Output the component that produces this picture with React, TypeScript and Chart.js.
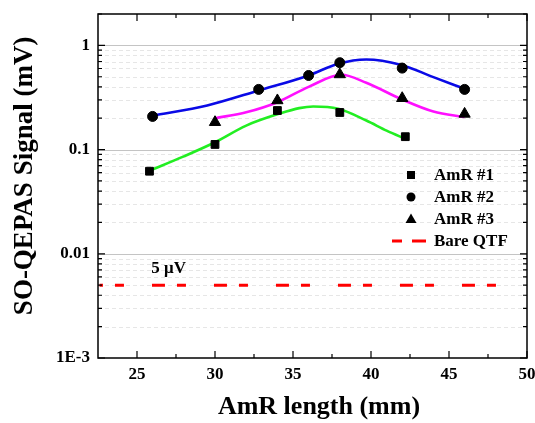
import React, { useEffect, useRef } from 'react';
import { Chart, registerables } from 'chart.js';

Chart.register(...registerables);

const FONT = "'Times New Roman', 'Liberation Serif', serif";

// ---- measured points ----
const amr1X = [25.8, 30, 34, 38, 42.2];
const amr1Y = [0.062, 0.112, 0.237, 0.227, 0.133];
const amr2X = [26, 32.8, 36, 38, 42, 46];
const amr2Y = [0.208, 0.378, 0.514, 0.682, 0.605, 0.378];
const amr3X = [30, 34, 38, 42, 46];
const amr3Y = [0.183, 0.296, 0.526, 0.311, 0.22];

// ---- fitted curves ----
const fit1X = [25.8, 28, 30, 32, 34.2, 35.4, 36.3, 37.9, 39.7, 41, 42.3];
const fit1Y = [0.0628, 0.086, 0.1175, 0.17, 0.223, 0.25, 0.259, 0.246, 0.19, 0.152, 0.125];
const fit2X = [26, 29.5, 32.8, 36, 37.9, 39.7, 41.9, 44, 46];
const fit2Y = [0.212, 0.265, 0.369, 0.515, 0.667, 0.733, 0.652, 0.496, 0.383];
const fit3X = [30, 32, 34, 36, 38.1, 39.7, 41.9, 44, 46];
const fit3Y = [0.2, 0.228, 0.285, 0.4, 0.522, 0.438, 0.307, 0.232, 0.205];

// ---- bare QTF reference level ----
const bareX = [22.6, 48.1];
const bareY = [0.005, 0.005];
const bareLongDash = [13, 49];
const bareShortDash = [9, 53];

// ---- axes ----
const xMin = 22.5;
const xMax = 50;
const xTickVals = [25, 30, 35, 40, 45, 50];
const xMinorVals = [25, 27.5, 30, 32.5, 35, 37.5, 40, 42.5, 45, 47.5, 50];
const yMin = 0.001;
const yMax = 2;
const yTickVals = [0.001, 0.01, 0.1, 1];
const yTickLabels = ['1E-3', '0.01', '0.1', '1'];

const seriesLabels = ['AmR #1', 'AmR #2', 'AmR #3', 'Bare QTF'];
const noteText = '5 μV';
const noteX = 27.03;
const noteY = 0.0072;

const pts = (xs: number[], ys: number[]) => xs.map((x, i) => ({ x, y: ys[i] }));

function yMinorVals(): { v: number; major: boolean }[] {
  const out: { v: number; major: boolean }[] = [];
  for (let e = -3; e <= 0; e++) {
    for (let m = 1; m <= 9; m++) {
      const v = m * Math.pow(10, e);
      if (v > yMax + 1e-9) break;
      out.push({ v, major: m === 1 });
    }
  }
  return out;
}

const gridPlugin = {
  id: 'gridPlugin',
  beforeDatasetsDraw(chart: any) {
    const { ctx, chartArea: a, scales } = chart;
    const y = scales.y;
    yMinorVals().forEach((t) => {
      const py = Math.round(y.getPixelForValue(t.v)) + 0.5;
      if (py < a.top + 1 || py > a.bottom - 1) return;
      ctx.save();
      ctx.lineWidth = 1;
      ctx.strokeStyle = t.major ? '#c4c4c4' : '#e6e6e6';
      ctx.setLineDash(t.major ? [] : [4, 3]);
      ctx.beginPath();
      ctx.moveTo(a.left, py);
      ctx.lineTo(a.right, py);
      ctx.stroke();
      ctx.restore();
    });
  },
};

const framePlugin = {
  id: 'framePlugin',
  afterDatasetsDraw(chart: any) {
    const { ctx, chartArea: a, scales } = chart;
    const x = scales.x;
    const y = scales.y;
    ctx.save();
    ctx.setLineDash([]);
    ctx.strokeStyle = '#000';
    ctx.lineWidth = 1.5;
    ctx.strokeRect(a.left, a.top, a.right - a.left, a.bottom - a.top);

    ctx.lineWidth = 1.2;
    xMinorVals.forEach((v) => {
      const px = x.getPixelForValue(v);
      const len = v % 5 === 0 ? 7 : 4;
      ctx.beginPath();
      ctx.moveTo(px, a.bottom);
      ctx.lineTo(px, a.bottom - len);
      ctx.moveTo(px, a.top);
      ctx.lineTo(px, a.top + len);
      ctx.stroke();
    });
    yMinorVals().forEach((t) => {
      const py = y.getPixelForValue(t.v);
      if (py < a.top || py > a.bottom) return;
      const len = t.major ? 7 : 4;
      ctx.beginPath();
      ctx.moveTo(a.left, py);
      ctx.lineTo(a.left + len, py);
      ctx.moveTo(a.right, py);
      ctx.lineTo(a.right - len, py);
      ctx.stroke();
    });

    ctx.fillStyle = '#000';
    ctx.font = `bold 17px ${FONT}`;
    ctx.textAlign = 'center';
    ctx.textBaseline = 'middle';
    ctx.fillText(noteText, x.getPixelForValue(noteX), y.getPixelForValue(noteY));

    const iconX = a.right - 116;
    const textX = a.right - 93;
    const rows = [a.top + 161, a.top + 183, a.top + 205, a.top + 227];
    ctx.textAlign = 'left';
    rows.forEach((ry, i) => {
      ctx.fillStyle = '#000';
      if (i === 0) {
        ctx.fillRect(iconX - 4, ry - 4, 8, 8);
      } else if (i === 1) {
        ctx.beginPath();
        ctx.arc(iconX, ry, 4.5, 0, Math.PI * 2);
        ctx.fill();
      } else if (i === 2) {
        ctx.beginPath();
        ctx.moveTo(iconX, ry - 5.5);
        ctx.lineTo(iconX + 5.5, ry + 4);
        ctx.lineTo(iconX - 5.5, ry + 4);
        ctx.closePath();
        ctx.fill();
      } else {
        ctx.strokeStyle = '#ff0000';
        ctx.lineWidth = 3;
        ctx.beginPath();
        ctx.moveTo(iconX - 19, ry);
        ctx.lineTo(iconX - 9, ry);
        ctx.moveTo(iconX + 1, ry);
        ctx.lineTo(iconX + 15, ry);
        ctx.stroke();
      }
      ctx.fillStyle = '#000';
      ctx.fillText(seriesLabels[i], textX, ry + 1);
    });
    ctx.restore();
  },
};

export default function App() {
  const ref = useRef<HTMLCanvasElement | null>(null);

  useEffect(() => {
    if (!ref.current) return;
    const chart = new Chart(ref.current, {
      type: 'scatter',
      data: {
        datasets: [
          { label: seriesLabels[0], data: pts(amr1X, amr1Y), pointStyle: 'rect', pointRadius: 5.5, backgroundColor: '#000', borderColor: '#000', showLine: false },
          { label: seriesLabels[1], data: pts(amr2X, amr2Y), pointStyle: 'circle', pointRadius: 5, backgroundColor: '#000', borderColor: '#000', showLine: false },
          { label: seriesLabels[2], data: pts(amr3X, amr3Y), pointStyle: 'triangle', pointRadius: 6.5, backgroundColor: '#000', borderColor: '#000', showLine: false },
          { label: 'fit1', data: pts(fit1X, fit1Y), showLine: true, borderColor: '#22ee22', borderWidth: 2.6, pointRadius: 0, cubicInterpolationMode: 'monotone' },
          { label: 'fit2', data: pts(fit2X, fit2Y), showLine: true, borderColor: '#0a0ae6', borderWidth: 2.6, pointRadius: 0, cubicInterpolationMode: 'monotone' },
          { label: 'fit3', data: pts(fit3X, fit3Y), showLine: true, borderColor: '#ff10ff', borderWidth: 2.6, pointRadius: 0, cubicInterpolationMode: 'monotone' },
          { label: seriesLabels[3], data: pts(bareX, bareY), showLine: true, borderColor: '#ff0000', borderWidth: 3, borderCapStyle: 'butt', pointRadius: 0, borderDash: bareLongDash, borderDashOffset: 9.6 },
          { label: seriesLabels[3] + ' ', data: pts(bareX, bareY), showLine: true, borderColor: '#ff0000', borderWidth: 3, borderCapStyle: 'butt', pointRadius: 0, borderDash: bareShortDash, borderDashOffset: 46.6 },
        ] as any,
      },
      options: {
        animation: false,
        responsive: false,
        maintainAspectRatio: false,
        layout: { padding: { top: 14, right: 8, left: 0, bottom: 0 } },
        plugins: { legend: { display: false }, tooltip: { enabled: false } },
        scales: {
          x: {
            type: 'linear', min: xMin, max: xMax,
            grid: { display: false, drawTicks: false, tickLength: 0 },
            border: { display: false },
            afterBuildTicks: (s: any) => { s.ticks = xTickVals.map((v) => ({ value: v })); },
            afterFit: (s: any) => { s.height = 65; s.paddingLeft = 0; s.paddingRight = 0; },
            ticks: { color: '#000', padding: 6, maxRotation: 0, autoSkip: false, font: { family: FONT, size: 17, weight: 'bold' }, callback: (v: any) => String(v) },
            title: { display: true, text: '  AmR length (mm)', color: '#000', padding: { top: 0, bottom: 0 }, font: { family: FONT, size: 26, weight: 'bold' } },
          },
          y: {
            type: 'logarithmic', min: yMin, max: yMax,
            grid: { display: false, drawTicks: false, tickLength: 0 },
            border: { display: false },
            afterBuildTicks: (s: any) => { s.ticks = yTickVals.map((v) => ({ value: v })); },
            afterFit: (s: any) => { s.width = 98; s.paddingTop = 0; s.paddingBottom = 0; },
            ticks: { color: '#000', padding: 8, autoSkip: false, font: { family: FONT, size: 17, weight: 'bold' }, callback: (_v: any, i: number) => yTickLabels[i] },
            title: { display: true, text: '   SO-QEPAS Signal (mV)', color: '#000', padding: { top: 9, bottom: 0 }, font: { family: FONT, size: 27, weight: 'bold' } },
          },
        },
      } as any,
      plugins: [gridPlugin, framePlugin],
    });
    return () => chart.destroy();
  }, []);

  return (
    <div style={{ position: 'absolute', left: 0, top: 0, width: 535, height: 423, background: '#fff' }}>
      <canvas ref={ref} width={535} height={423} />
    </div>
  );
}
